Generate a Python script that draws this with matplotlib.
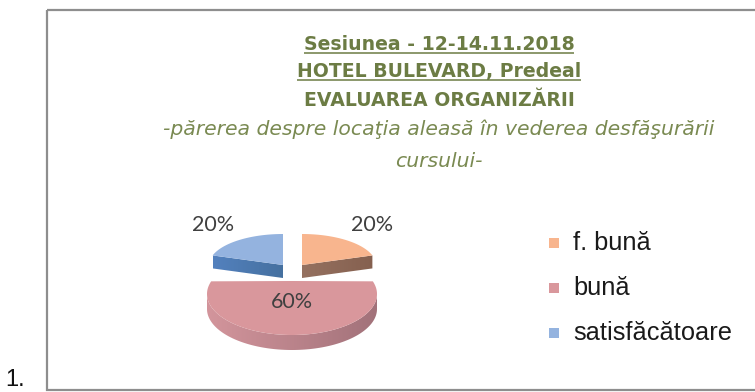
import numpy as np
import matplotlib
matplotlib.use("Agg")
import matplotlib.pyplot as plt
from matplotlib.patches import Polygon, Rectangle
from matplotlib.colors import to_rgb

# ---- data -------------------------------------------------------------
categories = ["f. bună", "bună", "satisfăcătoare"]
shares = [20, 60, 20]
pct_labels = [f"{v}%" for v in shares]

title_lines = ["Sesiunea - 12-14.11.2018", "HOTEL BULEVARD, Predeal", "EVALUAREA ORGANIZĂRII"]
title_underlined = [True, True, False]
subtitle_lines = ["-părerea despre locaţia aleasă în vederea desfăşurării", "cursului-"]

# ---- style ------------------------------------------------------------
top_colors = ["#F8B58E", "#D9979C", "#94B3DF"]
side_light = ["#957160", "#D3959C", "#5381BE"]
side_dark = ["#85604F", "#A2727A", "#45709F"]
title_color = "#6C7C44"
sub_color = "#7A8A52"

W, H = 755, 392
fig = plt.figure(figsize=(W / 100, H / 100), dpi=100)
fig.patch.set_facecolor("white")
ax = fig.add_axes([0, 0, 1, 1])
ax.set_xlim(0, W)
ax.set_ylim(H, 0)
ax.axis("off")

# chart frame
ax.add_patch(Rectangle((47, 10), 720, 380, fill=False, edgecolor="#8E8E8E", lw=1.6))
ax.text(5, 386, "1.", fontsize=17, family="Liberation Sans", color="#111111",
        ha="left", va="baseline")

# ---- titles -----------------------------------------------------------
cx_title = 439
baselines = [50, 77, 106]
renderer = fig.canvas.get_renderer()
for line, yb, ul in zip(title_lines, baselines, title_underlined):
    t = ax.text(cx_title, yb, line, fontsize=13.6, family="DejaVu Sans", weight="bold",
                color=title_color, ha="center", va="baseline")
    if ul:
        bb = t.get_window_extent(renderer=renderer)
        inv = ax.transData.inverted()
        (x0, _), (x1, _) = inv.transform([(bb.x0, 0), (bb.x1, 0)])
        ax.plot([x0, x1], [yb + 3, yb + 3], color=title_color, lw=1.1,
                solid_capstyle="butt")
for line, yb in zip(subtitle_lines, [135, 167]):
    ax.text(cx_title, yb, line, fontsize=14.7, family="DejaVu Sans", style="italic",
            color=sub_color, ha="center", va="baseline")

# ---- 3-D pie ----------------------------------------------------------
base = (292, 280)
# per-slice ellipse radii, thickness, explode offset and perspective lift of the
# disc centre relative to the projected ellipse centre
geom = [
    dict(a=74, b=31, d=13, off=(10, -15), lift=0, lab_r=1.6),
    dict(a=85, b=41, d=15, off=(0, 14), lift=13, lab_r=0.2),
    dict(a=74, b=31, d=13, off=(-9, -15), lift=0, lab_r=1.6),
]

total = float(sum(shares))
bounds = 90 - 360 * np.concatenate([[0], np.cumsum(shares)]) / total


def centre(g):
    return base[0] + g["off"][0], base[1] + g["off"][1]


def pt(g, th_deg, z=0.0):
    th = np.radians(np.atleast_1d(th_deg))
    cx, cy = centre(g)
    return np.column_stack([cx + g["a"] * np.cos(th), cy - g["b"] * np.sin(th) + z])


def shaded(poly, c_left, c_right, z):
    """Fill a polygon with a left-to-right colour ramp."""
    patch = Polygon(poly, closed=True, fc="none", ec="none")
    ax.add_patch(patch)
    x0, x1 = poly[:, 0].min(), poly[:, 0].max()
    y0, y1 = poly[:, 1].min(), poly[:, 1].max()
    t = np.linspace(0, 1, 256)
    cl, cr = np.array(to_rgb(c_left)), np.array(to_rgb(c_right))
    ramp = (cl[None, :] + (cr - cl)[None, :] * t[:, None])[None, :, :]
    im = ax.imshow(ramp, extent=[x0, x1, y1, y0], origin="upper", aspect="auto",
                   interpolation="bilinear", zorder=z)
    im.set_clip_path(patch)


def draw_slice(i):
    g = geom[i]
    th0, th1 = bounds[i], bounds[i + 1]   # th0 > th1 (clockwise)
    cx, cy = centre(g)
    apex = np.array([[cx, cy - g["lift"]]])
    d = g["d"]
    # cut faces
    for th, vis in ((th1, np.cos(np.radians(th1)) > 1e-6),
                    (th0, np.cos(np.radians(th0)) < -1e-6)):
        if vis:
            rim = pt(g, th)
            poly = np.vstack([apex, rim, rim + [0, d], apex + [0, d]])
            shaded(poly, side_light[i], side_dark[i], 2)
    # curved outer side, front half only
    lo, hi = max(th1, -180), min(th0, 0)
    if hi > lo:
        angs = np.linspace(hi, lo, 120)
        seg = pt(g, angs)
        poly = np.vstack([seg, seg[::-1] + [0, d]])
        shaded(poly, side_light[i], side_dark[i], 2)
    # top face
    arc = pt(g, np.linspace(th0, th1, 120))
    ax.add_patch(Polygon(np.vstack([apex, arc]), closed=True, fc=top_colors[i],
                         ec="none", zorder=3))
    # percent label
    mid = np.radians((th0 + th1) / 2)
    lx = cx + g["a"] * g["lab_r"] * np.cos(mid)
    ly = cy - g["b"] * g["lab_r"] * np.sin(mid)
    ax.text(lx, ly, pct_labels[i], fontsize=15.5, family="Lato", color="#404040",
            ha="center", va="center", zorder=5)


# back slices first, the large front slice last
for i in (0, 2, 1):
    draw_slice(i)

# ---- legend -----------------------------------------------------------
leg_y = [243, 288, 333]
for c, lab, y in zip(top_colors, categories, leg_y):
    ax.add_patch(Rectangle((549, y - 5), 10, 10, fc=c, ec="none"))
    ax.text(573, y, lab, fontsize=18.3, family="Liberation Sans", color="#1A1A1A",
            ha="left", va="center")

ax.set_xlim(0, W)
ax.set_ylim(H, 0)
fig.savefig("out.png", dpi=100)
